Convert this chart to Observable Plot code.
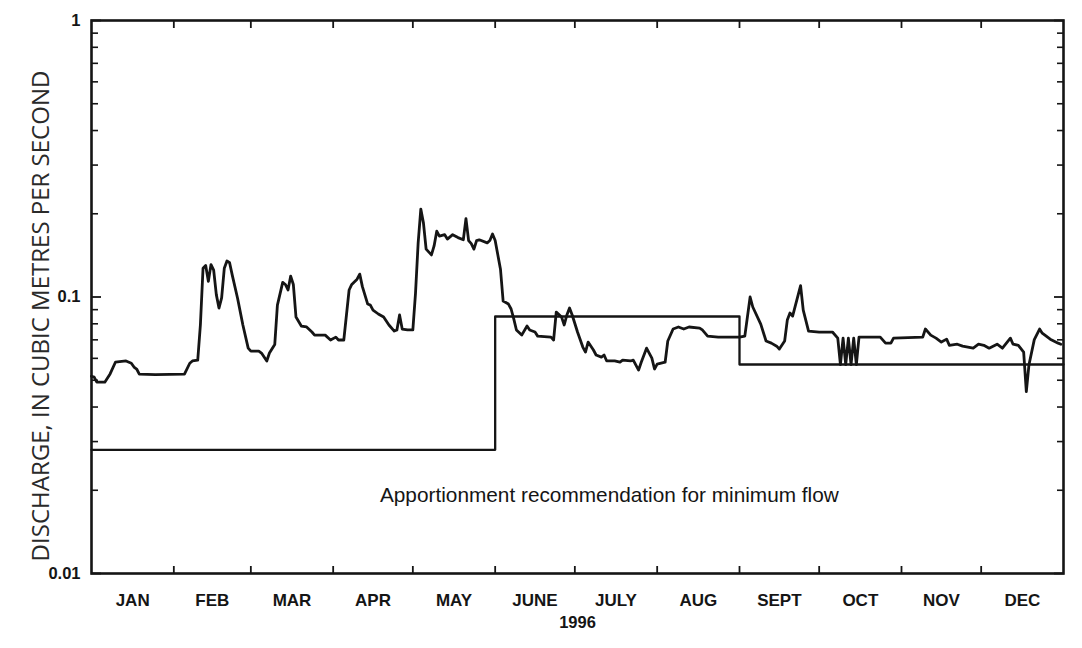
<!DOCTYPE html>
<html>
<head>
<meta charset="utf-8">
<script src="https://cdn.jsdelivr.net/npm/d3@7"></script>
<script src="https://cdn.jsdelivr.net/npm/@observablehq/plot@0.6"></script>
<style>
  body { margin: 0; background: #ffffff; }
  #chart svg { display: block; }
</style>
</head>
<body>
<div id="chart"></div>
<script>
// ---- data (day of year 1996, 0 = Jan 1) ----
const flowDay = [0,1,2,5,7,9,13,15,16,17,18,24,35,37,38,40,41,42,43,44,45,46,47,48,49,50,51,52,53,55,57,59,60,63,64,66,67,69,70,72,73,74,75,76,77,79,81,83,84,88,90,92,93,95,97,98,100,101,102,104,105,106,108,110,112,114,115,116,117,119,121,122,123,124,125,126,128,129,130,131,133,134,136,138,140,141,142,143,144,145,146,149,150,151,152,154,155,157,158,159,160,162,164,165,167,168,173,174,175,177,178,179,180,181,183,185,186,187,189,190,192,193,194,197,199,200,203,204,206,207,209,211,212,213,216,217,219,221,223,225,229,230,232,236,241,244,246,248,249,252,254,256,258,259,261,262,263,264,267,268,270,274,279,281,282,283,284,285,286,287,288,289,297,299,301,302,313,314,316,318,320,322,323,326,328,332,334,336,338,341,343,346,347,349,351,352,353,355,357,358,361,364,365];
const flowValue = [0.0517,0.0513,0.0492,0.0492,0.0527,0.0581,0.0587,0.0576,0.0558,0.0549,0.0526,0.0524,0.0526,0.0576,0.0587,0.0591,0.0792,0.127,0.130,0.114,0.131,0.125,0.102,0.0912,0.0992,0.127,0.135,0.133,0.120,0.099,0.0792,0.0653,0.0637,0.0637,0.0627,0.0587,0.0627,0.0673,0.0935,0.113,0.111,0.106,0.119,0.111,0.0846,0.0785,0.0779,0.0747,0.0728,0.0728,0.0699,0.0716,0.0699,0.0699,0.106,0.111,0.116,0.121,0.109,0.0943,0.0935,0.0897,0.0868,0.0846,0.0792,0.0753,0.0760,0.0861,0.0766,0.0760,0.0760,0.103,0.157,0.208,0.185,0.149,0.142,0.153,0.173,0.166,0.168,0.162,0.168,0.164,0.161,0.192,0.160,0.156,0.149,0.160,0.161,0.157,0.160,0.169,0.160,0.126,0.0967,0.0943,0.0905,0.0833,0.0760,0.0728,0.0785,0.0760,0.0747,0.0722,0.0716,0.0699,0.0882,0.0846,0.0792,0.0861,0.0912,0.0861,0.0747,0.0659,0.0632,0.0687,0.0643,0.0617,0.0606,0.0617,0.0587,0.0587,0.0581,0.0591,0.0587,0.0591,0.0544,0.0581,0.0653,0.0601,0.0549,0.0572,0.0581,0.0693,0.0766,0.0779,0.0766,0.0779,0.0772,0.0760,0.0722,0.0716,0.0716,0.0716,0.0722,0.100,0.0920,0.0798,0.0693,0.0681,0.0664,0.0648,0.0693,0.0825,0.0875,0.0853,0.110,0.0897,0.0753,0.0747,0.0747,0.0710,0.057,0.0710,0.057,0.0710,0.057,0.0710,0.057,0.0716,0.0716,0.0681,0.0681,0.0710,0.0716,0.0766,0.0728,0.0710,0.0687,0.0704,0.0669,0.0675,0.0664,0.0653,0.0675,0.0669,0.0653,0.0675,0.0653,0.0710,0.0675,0.0669,0.0632,0.0455,0.0569,0.0701,0.0766,0.0740,0.0704,0.0681,0.0675];

const minFlowDay = [0, 152, 244, 366];
const minFlowValue = [0.028, 0.085, 0.057, 0.057];

const monthLabels = ["JAN","FEB","MAR","APR","MAY","JUNE","JULY","AUG","SEPT","OCT","NOV","DEC"];
const yTickValues = [0.01, 0.1, 1];
const yTickLabels = ["0.01", "0.1", "1"];
const yearLabel = "1996";
const yTitle = "DISCHARGE, IN CUBIC METRES PER SECOND";
const noteText = "Apportionment recommendation for minimum flow";
const noteDay = 195;
const noteValue = 0.0191;

// ---- build tables ----
const yearStart = Date.UTC(1996, 0, 1);
const toDate = d => new Date(yearStart + d * 864e5);
const flow = flowDay.map((d, i) => ({date: toDate(d), q: flowValue[i]}));
const minFlow = minFlowDay.map((d, i) => ({date: toDate(d), q: minFlowValue[i]}));
const monthStarts = d3.utcMonths(toDate(0), toDate(366));
const monthMids = monthStarts.map(m => new Date((+m + +d3.utcMonth.offset(m, 1)) / 2));
const minorTicks = [];
for (const base of [0.01, 0.1]) for (let k = 2; k <= 9; k++) minorTicks.push(+(base * k).toFixed(3));

const ink = "#151515";
const sans = "'Liberation Sans', Arial, sans-serif";

const chart = Plot.plot({
  width: 1082,
  height: 648,
  marginTop: 20,
  marginBottom: 75,
  marginLeft: 91,
  marginRight: 19,
  style: {fontFamily: sans, color: ink, background: "#ffffff"},
  x: {type: "utc", domain: [toDate(0), toDate(366)]},
  y: {type: "log", domain: [0.01, 1]},
  marks: [
    Plot.frame({stroke: ink, strokeWidth: 2.6}),
    // inward month ticks, bottom and top
    Plot.axisX(monthStarts.slice(1), {anchor: "bottom", tickSize: -7, fill: "none", strokeWidth: 1.8, stroke: ink}),
    Plot.axisX(monthStarts.slice(1), {anchor: "top", tickSize: -7, fill: "none", strokeWidth: 1.8, stroke: ink}),
    // month labels
    Plot.axisX(monthMids, {anchor: "bottom", tickSize: 0, tickPadding: 20, tickFormat: d => monthLabels[d.getUTCMonth()],
      fontSize: 17, fontWeight: "bold", fill: ink, label: null}),
    // y minor ticks inward, both sides
    Plot.axisY(minorTicks, {anchor: "left", tickSize: -7, fill: "none", strokeWidth: 1.6, stroke: ink}),
    Plot.axisY(minorTicks, {anchor: "right", tickSize: -7, fill: "none", strokeWidth: 1.6, stroke: ink}),
    Plot.axisY(yTickValues, {anchor: "left", tickSize: -10, fill: "none", strokeWidth: 1.8, stroke: ink}),
    Plot.axisY(yTickValues, {anchor: "right", tickSize: -10, fill: "none", strokeWidth: 1.8, stroke: ink}),
    // y labels
    Plot.axisY(yTickValues, {anchor: "left", tickSize: 0, tickPadding: 11, tickFormat: (d) => yTickLabels[yTickValues.indexOf(d)],
      fontSize: 16.5, fontWeight: "bold", fill: ink, label: null}),
    // titles
    Plot.text([yTitle], {frameAnchor: "left", textAnchor: "middle", rotate: -90, dx: -50, dy: 19, fontSize: 24,
      fill: "#2a2a2a", fontFamily: "'Open Sans', 'Liberation Sans', sans-serif"}),
    Plot.text([yearLabel], {frameAnchor: "bottom", textAnchor: "middle", dy: 54, fontSize: 16.5, fontWeight: "bold", fill: ink}),
    Plot.text([noteText], {x: () => toDate(noteDay), y: () => noteValue, fontSize: 20.8, fill: ink}),
    // data
    Plot.line(minFlow, {x: "date", y: "q", curve: "step-after", stroke: ink, strokeWidth: 2.3}),
    Plot.line(flow, {x: "date", y: "q", stroke: ink, strokeWidth: 2.8, strokeLinejoin: "round"})
  ]
});
document.getElementById("chart").append(chart);
</script>
</body>
</html>
